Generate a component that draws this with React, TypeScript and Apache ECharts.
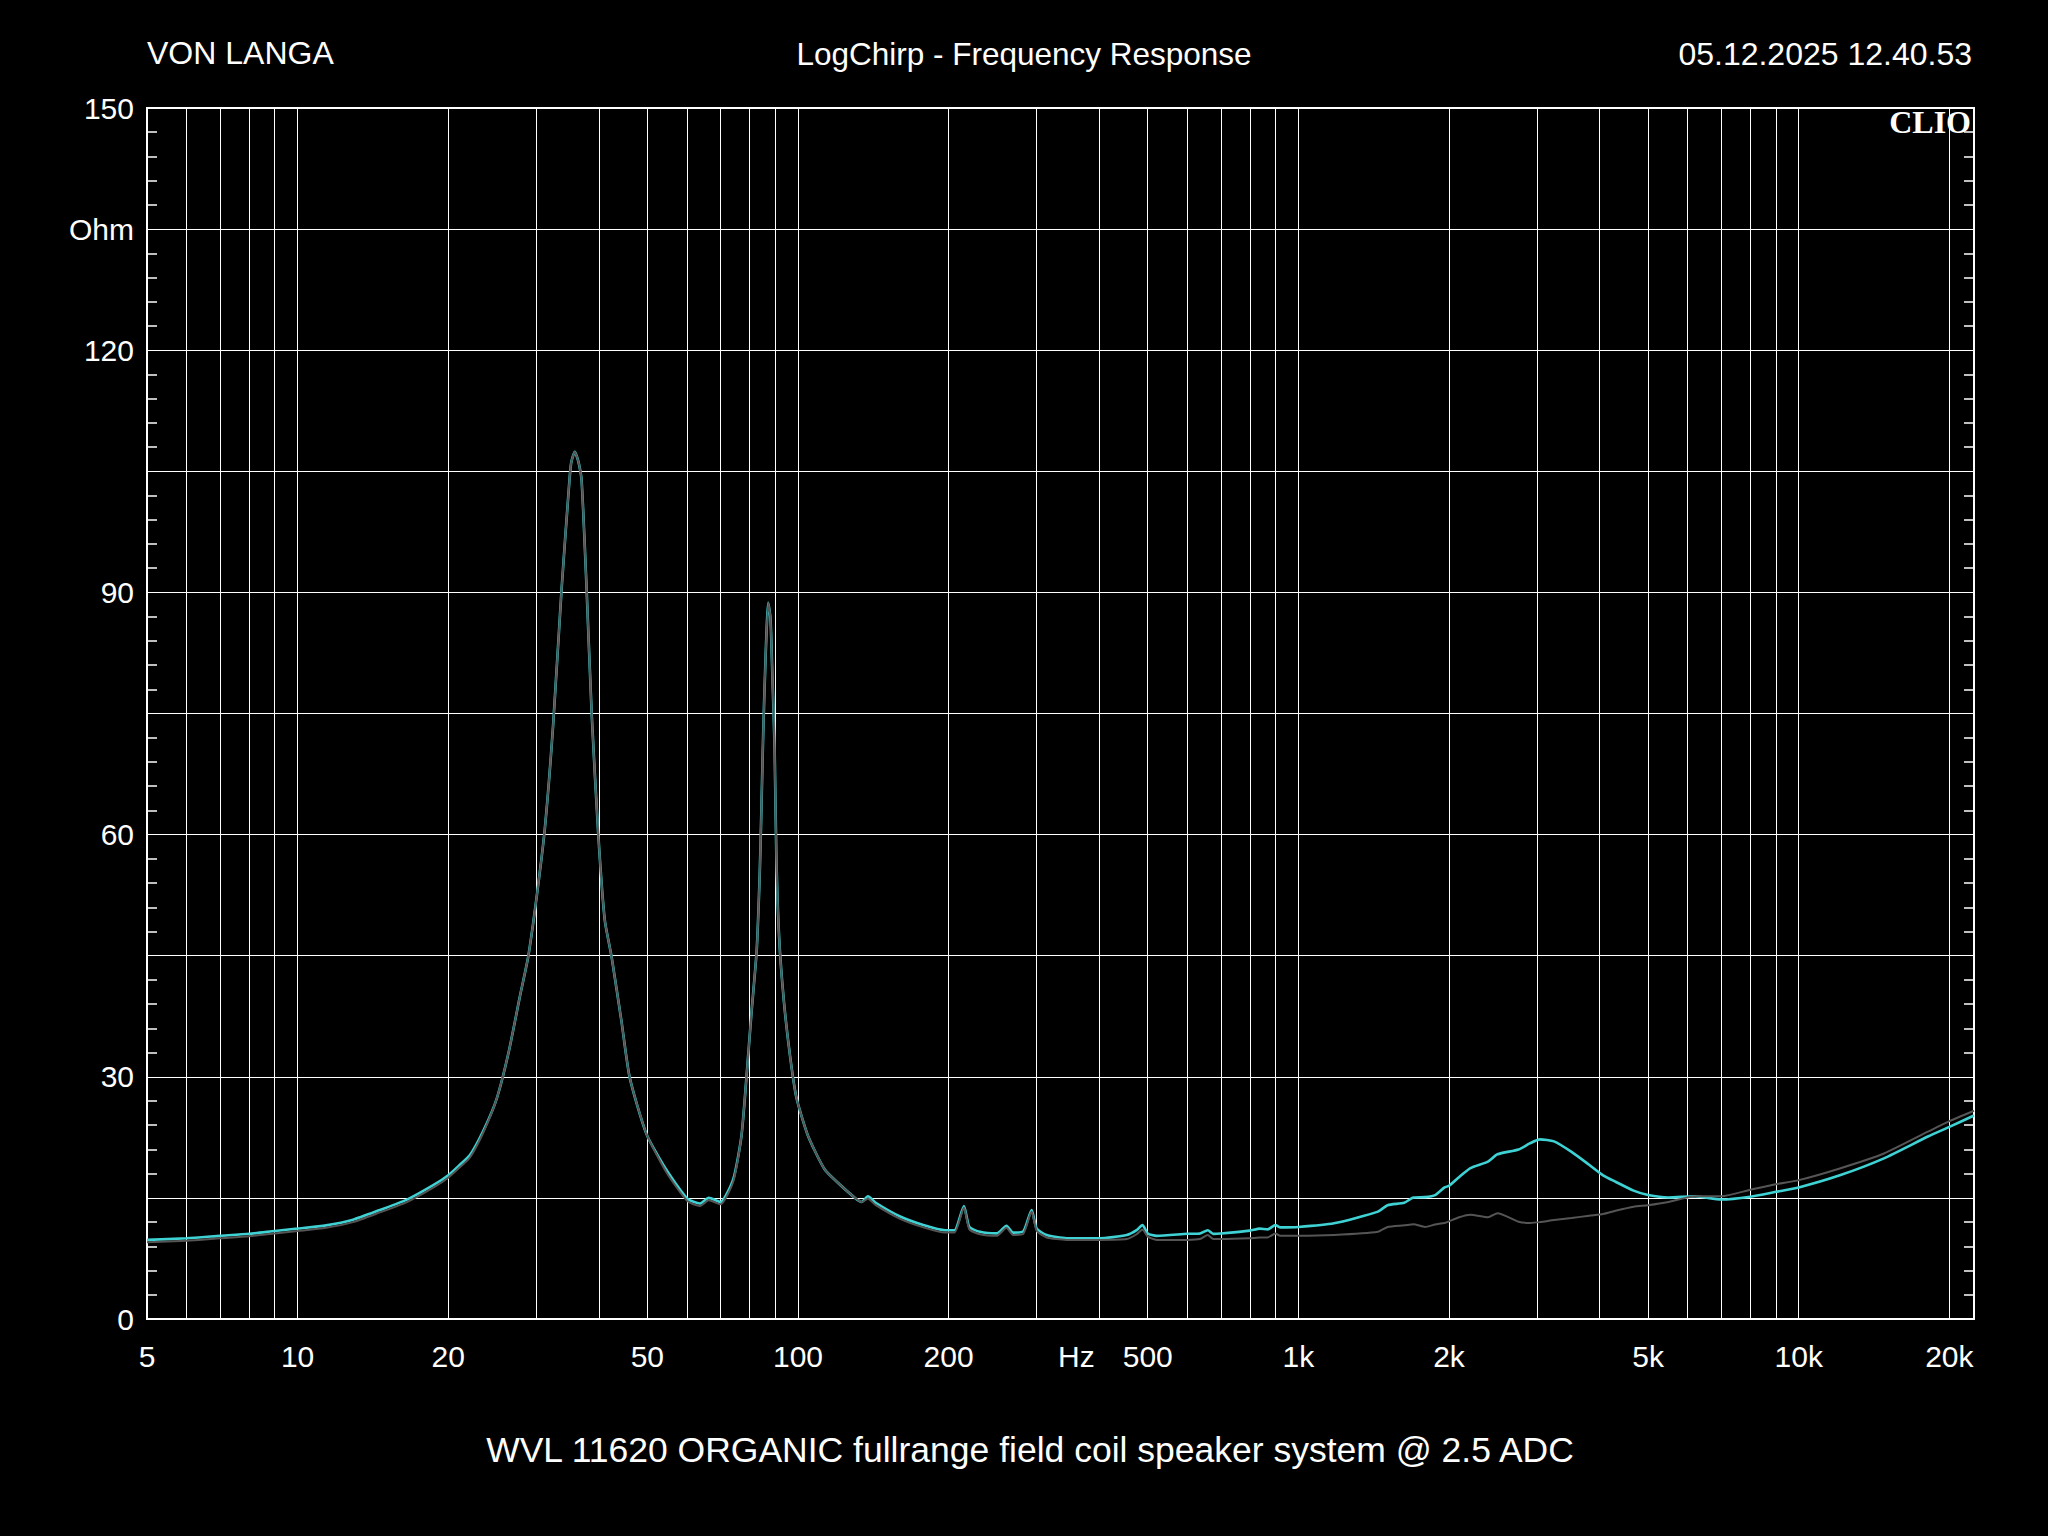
import React, { useEffect, useRef } from 'react';
import * as echarts from 'echarts';

// Frequency (Hz) of each read point
const freqHz = [
  5, 6, 7, 8, 9, 10, 11.4, 12.9, 14.6, 16.5, 18.7, 20, 21.1, 22.1, 23.5, 25.0, 26.4, 27.8, 28.9, 30.0,
  31.2, 32.4, 33.7, 34.8, 35.2, 35.8, 36.4, 36.95, 37.8, 38.7, 39.9, 41.1, 42.4, 44.4, 46.1,
  49.8, 54.6, 60.1, 63.7, 66.3, 70.0, 74.3, 77.1, 78.9, 80.7, 82.7, 83.9, 84.5, 85.2, 86.1,
  87.2, 88.1, 88.9, 89.8, 90.5, 91.7, 93.7, 96.4, 99.3, 104.7, 113, 122, 130, 134, 138, 143,
  160, 178, 197, 205.5, 214.6, 220, 231, 249.5, 261, 269, 282, 293, 300, 314, 344, 400, 454,
  475, 488, 500, 521, 600, 636, 659, 676, 700, 800, 837, 868, 900, 919, 1000, 1178, 1442,
  1508, 1628, 1698, 1790, 1876, 1960, 2000, 2097, 2207, 2393, 2500, 2755, 2900, 3040, 3242,
  3515, 3812, 4064, 4303, 4677, 5000, 5491, 6205, 7000, 8000, 9000, 10000, 12080, 14800,
  18120, 20000, 22400,
];

// Impedance (Ohm), cyan trace
const cyanOhm = [
  9.8, 10.0, 10.3, 10.55, 10.9, 11.2, 11.6, 12.3, 13.5, 14.75, 16.6, 17.8, 19.1, 20.3, 23.3, 27.3, 33.0, 39.9, 44.9, 52.0,
  60.8, 73.5, 90.5, 102.5, 106.0, 107.4, 106.2, 103.8, 90.5, 74.9, 59.9, 49.4, 44.9, 36.8, 29.9,
  22.9, 18.45, 14.9, 14.3, 15.0, 14.5, 17.4, 22.7, 30.0, 37.8, 45.7, 55.6, 63.1, 72.5, 81.6,
  88.7, 86.8, 79.5, 70.7, 57.6, 47.2, 39.4, 32.6, 27.4, 22.7, 18.55, 16.5, 15.0, 14.5, 15.2, 14.4,
  12.7, 11.65, 11.0, 11.0, 14.0, 11.4, 10.8, 10.6, 11.55, 10.7, 10.85, 13.5, 11.2, 10.4, 10.0, 10.0, 10.4,
  11.0, 11.65, 10.6, 10.3, 10.55, 10.6, 11.0, 10.55, 10.6, 10.95, 11.2, 11.1, 11.65, 11.35, 11.4, 11.85, 13.3,
  14.1, 14.4, 15.05, 15.1, 15.35, 16.3, 16.5, 17.6, 18.7, 19.5, 20.4, 21.0, 21.75, 22.25, 22.0,
  20.7, 19.1, 17.8, 17.0, 15.9, 15.35, 15.05, 15.2, 14.8, 15.15, 15.75, 16.3, 17.8, 19.9,
  22.6, 23.8, 25.2,
];

// Impedance (Ohm), gray trace
const grayOhm = [
  9.5, 9.7, 10.0, 10.25, 10.6, 10.9, 11.3, 12.0, 13.2, 14.45, 16.3, 17.5, 18.8, 20.0, 23.1, 27.3, 33.0, 39.9, 44.9, 52.0,
  60.8, 73.5, 90.5, 102.5, 106.0, 107.4, 106.2, 103.8, 90.5, 74.9, 59.9, 49.4, 44.9, 36.8, 29.9,
  22.9, 18.15, 14.6, 14.0, 14.7, 14.2, 17.1, 22.7, 30.0, 37.8, 45.7, 55.6, 63.1, 72.5, 81.6,
  88.7, 86.8, 79.5, 70.7, 57.6, 47.2, 39.4, 32.6, 27.4, 22.7, 18.55, 16.5, 15.0, 14.5, 14.9, 14.1,
  12.4, 11.35, 10.7, 10.7, 13.8, 11.1, 10.5, 10.3, 11.3, 10.4, 10.55, 13.3, 10.9, 10.1, 9.8, 9.8, 9.9,
  10.5, 11.1, 10.2, 9.8, 9.8, 9.9, 10.4, 9.9, 9.9, 10.0, 10.1, 10.1, 10.6, 10.3, 10.3, 10.4, 10.8,
  11.4, 11.6, 11.75, 11.4, 11.7, 11.9, 12.1, 12.6, 12.9, 12.6, 13.1, 12.05, 11.9, 12.0, 12.25,
  12.5, 12.8, 13.0, 13.4, 13.9, 14.1, 14.5, 15.2, 15.2, 16.0, 16.7, 17.2, 18.65, 20.5,
  23.2, 24.5, 25.8,
];

// Axis definitions
const xMinHz = 5;
const xMaxHz = 22400;
const xGridHz = [
  6, 7, 8, 9, 10, 20, 30, 40, 50, 60, 70, 80, 90, 100, 200, 300, 400, 500, 600, 700, 800, 900,
  1000, 2000, 3000, 4000, 5000, 6000, 7000, 8000, 9000, 10000, 20000,
];
const xLabelHz = [5, 10, 20, 50, 100, 200, 360, 500, 1000, 2000, 5000, 10000, 20000];
const xLabelTexts = ['5', '10', '20', '50', '100', '200', 'Hz', '500', '1k', '2k', '5k', '10k', '20k'];
const yLabelValues = [0, 30, 60, 90, 120, 135, 150];
const yLabelTexts = ['0', '30', '60', '90', '120', 'Ohm', '150'];

const headerLeft = 'VON LANGA';
const headerCenter = 'LogChirp - Frequency Response';
const headerRight = '05.12.2025 12.40.53';
const brand = 'CLIO';
const caption = 'WVL 11620 ORGANIC fullrange field coil speaker system @ 2.5 ADC';

const FONT = '"Liberation Sans", Arial, Helvetica, sans-serif';

export default function App() {
  const ref = useRef<HTMLDivElement>(null);

  useEffect(() => {
    document.body.style.margin = '0';
    document.body.style.background = '#000';
    const chart = echarts.init(ref.current as HTMLDivElement, null, { renderer: 'svg' });

    const lg = (f: number) => Math.log10(f);
    const xLabelLogs = xLabelHz.map(lg);

    const option: any = {
      animation: false,
      backgroundColor: '#000000',
      grid: {
        left: 147,
        right: 74,
        top: 108,
        bottom: 217,
        show: true,
        borderColor: '#ffffff',
        borderWidth: 2,
        backgroundColor: 'transparent',
        containLabel: false,
        outerBoundsMode: 'none',
      },
      xAxis: {
        type: 'value',
        min: lg(xMinHz),
        max: lg(xMaxHz),
        axisLine: { show: false },
        axisTick: { show: false, customValues: xGridHz.map(lg) },
        splitLine: { show: true, lineStyle: { color: '#ffffff', width: 1 } },
        axisLabel: {
          customValues: xLabelLogs,
          color: '#ffffff',
          fontSize: 30,
          fontFamily: FONT,
          margin: 22,
          showMinLabel: true,
          showMaxLabel: true,
          formatter: (v: number) => {
            let best = 0;
            for (let i = 1; i < xLabelLogs.length; i++) {
              if (Math.abs(xLabelLogs[i] - v) < Math.abs(xLabelLogs[best] - v)) best = i;
            }
            return xLabelTexts[best];
          },
        },
      },
      yAxis: [
        {
          type: 'value',
          min: 0,
          max: 150,
          interval: 15,
          position: 'left',
          axisLine: { show: false },
          axisTick: { show: false, inside: true, length: 10 },
          minorTick: { show: true, splitNumber: 5, length: 10, lineStyle: { color: '#ffffff', width: 1.5 } },
          splitLine: { show: true, lineStyle: { color: '#ffffff', width: 1 } },
          axisLabel: {
            color: '#ffffff',
            fontSize: 30,
            fontFamily: FONT,
            margin: 13,
            formatter: (v: number) => {
              const i = yLabelValues.indexOf(Math.round(v));
              return i >= 0 ? yLabelTexts[i] : '';
            },
          },
        },
        {
          type: 'value',
          min: 0,
          max: 150,
          interval: 15,
          position: 'right',
          axisLine: { show: false },
          axisTick: { show: false, inside: true, length: 10 },
          minorTick: { show: true, splitNumber: 5, length: 10, lineStyle: { color: '#ffffff', width: 1.5 } },
          splitLine: { show: false },
          axisLabel: { show: false },
        },
      ],
      series: [
        {
          name: 'cyan',
          type: 'line',
          yAxisIndex: 0,
          showSymbol: false,
          smooth: 0.2,
          z: 3,
          lineStyle: { color: '#3fd2d4', width: 2.6 },
          data: freqHz.map((f, i) => [lg(f), cyanOhm[i]]),
        },
        {
          name: 'gray',
          type: 'line',
          yAxisIndex: 0,
          showSymbol: false,
          smooth: 0.2,
          z: 4,
          lineStyle: { color: '#555555', width: 2 },
          data: freqHz.map((f, i) => [lg(f), grayOhm[i]]),
        },
      ],
      graphic: [
        {
          type: 'text',
          left: 147,
          top: 54 - 17,
          style: { text: headerLeft, fill: '#ffffff', font: `32px ${FONT}` },
        },
        {
          type: 'text',
          x: 1024,
          y: 54,
          style: { text: headerCenter, fill: '#ffffff', font: `31.5px ${FONT}`, textAlign: 'center', textVerticalAlign: 'middle' },
        },
        {
          type: 'text',
          x: 1972,
          y: 54,
          style: { text: headerRight, fill: '#ffffff', font: `32px ${FONT}`, textAlign: 'right', textVerticalAlign: 'middle' },
        },
        {
          type: 'text',
          x: 1971,
          y: 122,
          z: 100,
          style: {
            text: brand,
            fill: '#ffffff',
            font: `bold 32px "Liberation Serif", "Times New Roman", serif`,
            textAlign: 'right',
            textVerticalAlign: 'middle',
          },
        },
        {
          type: 'text',
          x: 1030,
          y: 1450,
          style: { text: caption, fill: '#ffffff', font: `35.5px ${FONT}`, textAlign: 'center', textVerticalAlign: 'middle' },
        },
      ],
    };

    chart.setOption(option);
    return () => chart.dispose();
  }, []);

  return <div ref={ref} style={{ width: 2048, height: 1536, background: '#000' }} />;
}
